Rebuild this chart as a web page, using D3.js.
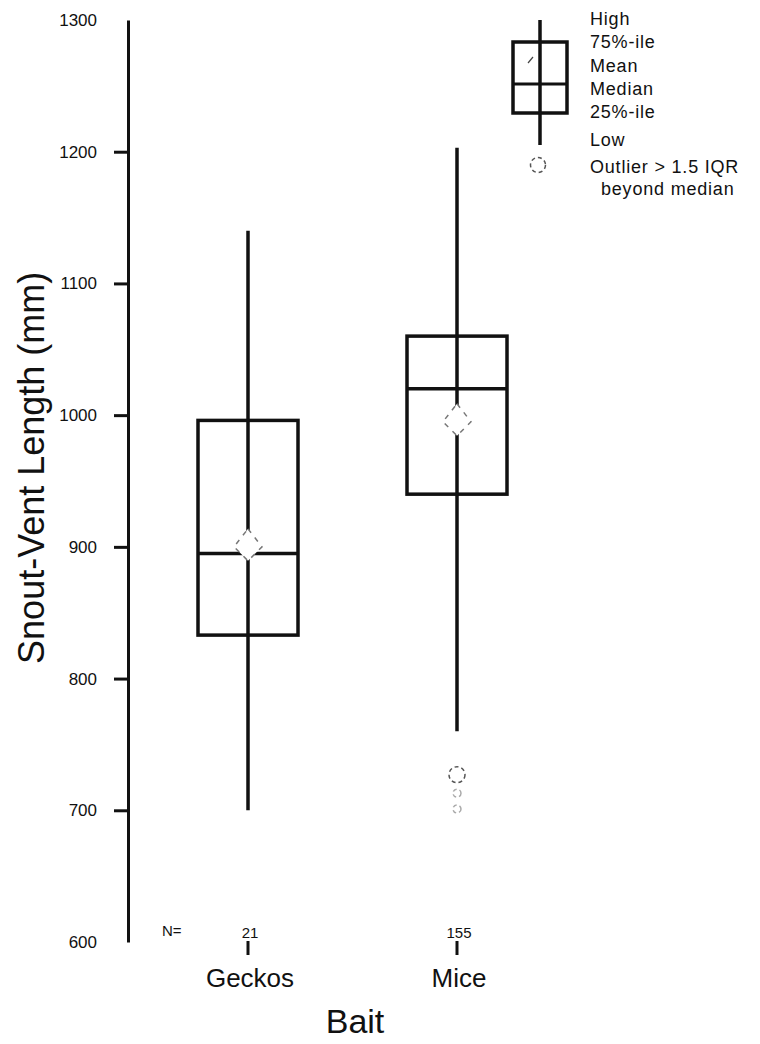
<!DOCTYPE html>
<html><head><meta charset="utf-8">
<script src="https://cdn.jsdelivr.net/npm/d3@7"></script>
<style>body{margin:0;background:#fff}svg{display:block}text{font-family:"Liberation Sans",Arial,sans-serif;fill:#111}</style>
</head><body>
<script>
const categories = ["Geckos", "Mice"];
const counts = [21, 155];
const low = [700, 760];
const q1 = [833, 940];
const median = [895, 1020];
const q3 = [996, 1060];
const high = [1140, 1203];
const mean = [900, 995];
const outliers = [[], [727, 713, 701]];
const yTicks = [700, 800, 900, 1000, 1100, 1200];
const yLabels = [600, 700, 800, 900, 1000, 1100, 1200, 1300];

const W = 760, H = 1044;
const svg = d3.select("body").append("svg").attr("width", W).attr("height", H);
const y = d3.scaleLinear().domain([600, 1300]).range([942, 20]);
const x = d3.scalePoint().domain(categories).range([248, 457]);
const axisX = 128;
const ink = "#111";

// y axis
const ax = svg.append("g").attr("transform", `translate(${axisX},0)`)
  .call(d3.axisLeft(y).tickValues(yTicks).tickSize(14).tickSizeOuter(0).tickFormat(""));
ax.select(".domain").attr("stroke", ink).attr("stroke-width", 3);
ax.selectAll(".tick line").attr("stroke", ink).attr("stroke-width", 3);
svg.selectAll(".ylab").data(yLabels).join("text").attr("class", "ylab")
  .attr("x", 97).attr("y", d => y(d) + 6).attr("text-anchor", "end")
  .attr("font-size", 17).text(d => d);

svg.append("text").attr("transform", `translate(44,${y(960)}) rotate(-90)`)
  .attr("text-anchor", "middle").attr("font-size", 36).text("Snout-Vent Length (mm)");

const bw = 100;
const g = svg.selectAll(".box").data(categories).join("g").attr("class", "box");
g.append("line").attr("x1", (d) => x(d)).attr("x2", d => x(d))
  .attr("y1", (d, i) => y(high[i])).attr("y2", (d, i) => y(low[i]))
  .attr("stroke", ink).attr("stroke-width", 3.5);
g.append("rect").attr("x", d => x(d) - bw / 2).attr("width", bw)
  .attr("y", (d, i) => y(q3[i])).attr("height", (d, i) => y(q1[i]) - y(q3[i]))
  .attr("fill", "none").attr("stroke", ink).attr("stroke-width", 3.5);
g.append("line").attr("x1", d => x(d) - bw / 2).attr("x2", d => x(d) + bw / 2)
  .attr("y1", (d, i) => y(median[i])).attr("y2", (d, i) => y(median[i]))
  .attr("stroke", ink).attr("stroke-width", 3.5);
// mean diamond
g.append("path").attr("d", (d, i) => {
  const cx = x(d), cy = y(mean[i]);
  return `M${cx},${cy - 18}L${cx + 14},${cy}L${cx},${cy + 14}L${cx - 14},${cy}Z`;
}).attr("fill", "#fff").attr("stroke", "#777").attr("stroke-width", 1.5).attr("stroke-dasharray", "5,6");
// outliers
categories.forEach((c, i) => {
  svg.selectAll(null).data(outliers[i]).join("circle")
    .attr("cx", x(c)).attr("cy", d => y(d)).attr("r", (d, j) => j === 0 ? 8 : 4)
    .attr("fill", "none").attr("stroke", (d, j) => j === 0 ? "#555" : "#aaa")
    .attr("stroke-width", 1.5).attr("stroke-dasharray", "4,3");
});

// x ticks and labels
svg.append("text").attr("x", 162).attr("y", 936).attr("font-size", 15).text("N=");
g.append("text").attr("x", d => x(d) + 2).attr("y", 938).attr("text-anchor", "middle")
  .attr("font-size", 15).text((d, i) => counts[i]);
g.append("line").attr("x1", d => x(d)).attr("x2", d => x(d)).attr("y1", 941).attr("y2", 955)
  .attr("stroke", ink).attr("stroke-width", 3);
g.append("text").attr("x", d => x(d) + 2).attr("y", 987).attr("text-anchor", "middle")
  .attr("font-size", 26).text(d => d);
svg.append("text").attr("x", 355).attr("y", 1033).attr("text-anchor", "middle")
  .attr("font-size", 34).text("Bait");

// legend
const lg = svg.append("g");
const lx = 540;
lg.append("line").attr("x1", lx).attr("x2", lx).attr("y1", 20).attr("y2", 145).attr("stroke", ink).attr("stroke-width", 3.5);
lg.append("rect").attr("x", lx - 27).attr("y", 42).attr("width", 54).attr("height", 71)
  .attr("fill", "none").attr("stroke", ink).attr("stroke-width", 3.5);
lg.append("line").attr("x1", lx - 27).attr("x2", lx + 27).attr("y1", 84).attr("y2", 84).attr("stroke", ink).attr("stroke-width", 3);
lg.append("line").attr("x1", 528).attr("x2", 533).attr("y1", 63).attr("y2", 57).attr("stroke", "#444").attr("stroke-width", 1.2);
lg.append("circle").attr("cx", lx - 2).attr("cy", 165).attr("r", 7.5).attr("fill", "none")
  .attr("stroke", "#555").attr("stroke-width", 1.5).attr("stroke-dasharray", "4,3");
const legendText = ["High", "75%-ile", "Mean", "Median", "25%-ile", "Low", "Outlier > 1.5 IQR"];
const legendY = [25, 48, 72, 95, 118, 146, 173];
lg.selectAll(".lt").data(legendText).join("text").attr("class", "lt")
  .attr("x", 590).attr("y", (d, i) => legendY[i]).attr("font-size", 18)
  .attr("letter-spacing", 0.8).text(d => d);
lg.append("text").attr("x", 601).attr("y", 195).attr("font-size", 18).attr("letter-spacing", 0.8).text("beyond median");
</script>
</body></html>
